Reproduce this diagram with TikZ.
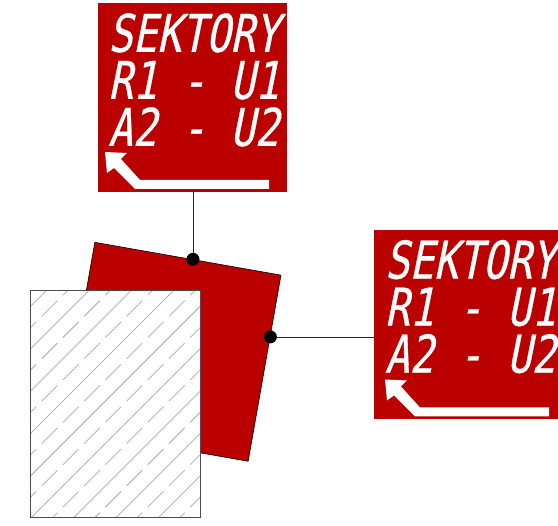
\documentclass[tikz,border=0pt]{standalone}
\usepackage{fontspec}
\usepackage{xcolor}
\usetikzlibrary{positioning, calc}
\newfontfamily\lcdfont[FakeStretch=0.78,FakeSlant=0.2,FakeBold=0.6]{DejaVu Sans Mono}
\definecolor{panel_red}{RGB}{187, 0, 0}
\definecolor{hatch_gray}{RGB}{170, 170, 170}
\tikzstyle{panel} = [rectangle, fill=panel_red, inner sep=0pt, minimum width=189pt]
\tikzstyle{lcdtext} = [inner sep=0pt, align=left, text=white, font={\lcdfont\fontsize{52pt}{47pt}\selectfont}]
\tikzstyle{pin} = [circle, fill=black, inner sep=0pt, minimum size=13pt]
\tikzstyle{lead} = [line width=0.75pt, black!85]
\tikzstyle{turnarrow} = [fill=white]
\newcommand{\bendarrow}[1]{%
  \fill[turnarrow, shift={(#1)}] (0,0) -- (22,1) -- (16,7) -- (35,28) -- (164,28) -- (164,37)
    -- (30,37) -- (9,16) -- (2,21) -- cycle;}

\begin{document}
\begin{tikzpicture}[x=1pt, y=-1pt]
\useasboundingbox (0,0) rectangle (558,526);

% Rotated plate
\node[rectangle, draw=black, line width=0.6pt, fill=panel_red, inner sep=0pt, minimum size=189pt, rotate=-10] (plate) at (171.5,351.8) {};

% Hatched block
\begin{scope}
\clip (30,291) rectangle (200,517.5);
\fill[white] (30,291) rectangle (200,517.5);
\foreach \k in {0,...,8} {
    \draw[hatch_gray, line width=0.75pt] ({20},{336.9+42.4*\k-20}) -- ({240},{336.9+42.4*\k-240});
    \draw[hatch_gray, line width=0.75pt, dash pattern=on 22.2pt off 7.8pt] ({20.5},{358.1+42.4*\k-20.5}) -- ({240},{358.1+42.4*\k-240});
}
\end{scope}
\node[rectangle, draw=black!70, line width=1pt, inner sep=0pt, minimum width=170pt, minimum height=226.5pt] (block) at (115,404.25) {};

% Panels
\node[panel, minimum height=189pt] (top) at (192.75,97.75) {};
\node[panel, minimum height=189pt] (side) at (468.5,324.5) {};

\node[lcdtext, below right=10pt and 10pt of top.north west] (toptext) {SEKTORY\\R1 - U1\\A2 - U2};
\node[lcdtext, below right=10pt and 11pt of side.north west] (sidetext) {SEKTORY\\R1 - U1\\A2 - U2};

\bendarrow{105,152}
\bendarrow{385,379.5}

% Pins and leads
\node[pin] (toppin) at ($(plate.north west)!0.527!(plate.north east)$) {};
\node[pin] (sidepin) at ($(plate.north east)!0.332!(plate.south east)$) {};
\draw[lead] (toppin) -- (toppin |- top.south);
\draw[lead] (sidepin) -- (sidepin -| side.west);

\end{tikzpicture}
\end{document}
